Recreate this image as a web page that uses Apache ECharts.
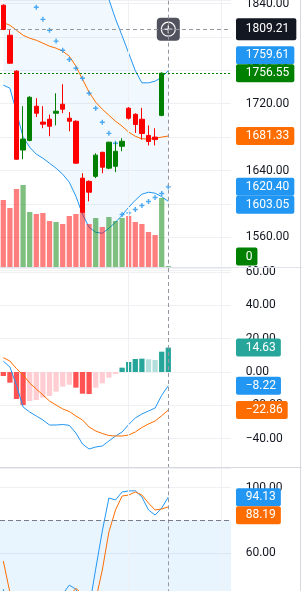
<!DOCTYPE html>
<html>
<head>
<meta charset="utf-8">
<script src="https://cdn.jsdelivr.net/npm/echarts@6/dist/echarts.min.js"></script>
<style>
html, body { margin: 0; padding: 0; background: #fff; width: 302px; height: 591px; overflow: hidden; position: relative; }
/* the canvas starts a bit above the window and runs past its bottom, like a scrolled pane */
#chart { position: absolute; left: 0; top: -20px; width: 302px; height: 731px; }
</style>
</head>
<body>
<div id="chart"></div>
<script>
// 26 bars with data, the rest of the slots are empty space on the right
const slots = ['1','2','3','4','5','6','7','8','9','10','11','12','13','14','15','16','17','18',
  '19','20','21','22','23','24','25','26','27','28','29','30','31','32','33','34','35'];

const open  = [1838, 1802, 1759, 1664.5, 1676, 1717, 1698, 1701.4, 1708.6, 1719.4, 1702.6, 1699, 1630.8, 1627, 1633, 1661.8, 1642.8, 1645, 1669, 1714.6, 1707.3, 1701.4, 1682, 1680, 1706, null];
const close = [1809, 1768.5, 1653.5, 1677.6, 1727.7, 1708.6, 1695.5, 1693, 1711, 1713.4, 1699, 1648.8, 1590, 1614, 1658.4, 1644, 1673.9, 1663, 1675, 1702.6, 1695.1, 1684.4, 1674.7, 1677, 1756.55, null];
const low   = [1808, 1768, 1653, 1653.5, 1675, 1704, 1690.6, 1681, 1694, 1708.6, 1687, 1648, 1589, 1603, 1630.8, 1636.7, 1641.6, 1638, 1663, 1701, 1685, 1677, 1670, 1670, 1705, null];
const high  = [1839, 1808, 1760, 1717, 1729, 1726.6, 1717, 1707, 1732.5, 1743.3, 1710, 1700, 1636.7, 1628.2, 1660.6, 1662.5, 1674.5, 1674, 1678.7, 1716, 1708.5, 1715, 1694, 1690.6, 1757.5, null];
const volume = [67, 59, 78, 82, 55, 53, 54, 46, 45, 43, 51, 53, 55, 43, 49, 40, 50, 46, 49, 51, 45, 43, 35, 32, 69, 0];

const bbUpper  = [1880, 1885, 1890, 1892, 1893, 1893, 1892, 1890, 1888, 1885, 1882, 1878, 1872, 1866, 1860, 1852, 1845, 1821.6, 1801.4, 1780.5, 1759.6, 1745, 1745, 1747, 1751.6, 1759.61];
const bbMiddle = [1817, 1814, 1808, 1802, 1798.4, 1796, 1792.5, 1788.9, 1786.5, 1782.9, 1776.9, 1764.9, 1749.3, 1733.8, 1721.8, 1713.4, 1706.2, 1699, 1693.1, 1686, 1681, 1678, 1677.5, 1678.5, 1680, 1681.33];
const bbLower  = [1742.2, 1738.6, 1709.9, 1679.9, 1667.9, 1659.5, 1654.7, 1648.7, 1642.7, 1635.5, 1625.9, 1609.2, 1587.6, 1572, 1566, 1564.8, 1570.8, 1578, 1586.4, 1596, 1604.4, 1611.6, 1614, 1612.8, 1608.6, 1603.05];
const sar = [null, null, null, null, null, 1835.6, 1821, 1808, 1795, 1784, 1773, 1762.5, 1750.5, 1732.5, 1714.6, 1697.8, 1684.5, 1672.6, 1587.3, 1589.2, 1593.3, 1598.1, 1602.9, 1607.7, 1612.5, 1620.4];

const macdHist   = [-2.4, -6.4, -16.2, -19.8, -17.4, -16.8, -15.4, -14.4, -11.8, -8.8, -7.6, -9.4, -13.0, -13.2, -9.4, -6.8, -3.4, -1.2, 2.6, 6.0, 7.8, 8.0, 7.6, 7.2, 12.2, 14.63];
const macdLine   = [6.5, 3.0, -8, -21, -24, -26.4, -28.8, -31.8, -31.8, -31.5, -32, -36.6, -43.2, -46.2, -45, -44.4, -41.4, -38.4, -36, -31.5, -27.6, -25.2, -23.4, -21.6, -14, -8.22];
const macdSignal = [8.6, 6.6, 2.0, -1.8, -6.6, -10.2, -13.8, -17.4, -19.8, -22.2, -23.7, -26.4, -28.8, -33, -35.4, -36.9, -38.1, -38.4, -38.4, -37.8, -36, -33.3, -31.2, -29.4, -26.2, -22.86];

const stochK = [38, 18, 8, 12, 20, 14, 10, 16, 22, 35, 40.5, 38, 28, 26.5, 50.3, 73.5, 93.6, 92.4, 97.3, 97.9, 98, 94.2, 86.3, 83.2, 87.5, 94.13];
const stochD = [55.2, 36, 20, 12, 13, 15, 15, 13, 15, 22, 34, 38.5, 35, 30, 31.4, 49.7, 72.9, 86.3, 94.8, 95.4, 97.3, 95.4, 90.5, 86.3, 86.9, 88.19];

const crossPrice = 1809.21;
const crossSlot = slots[25];

const TOP = 20; // canvas is shifted up by this much
const upColor = '#008000', downColor = '#ff0000';
const blue = '#2196f3', orange = '#ff6d00';
const gridColor = '#eef0f4';
const font = 'Roboto';

const candleData = open.map((o, i) => o == null ? '-' : [o, close[i], low[i], high[i]]);
const volData = volume.map((v, i) => ({
  value: v,
  itemStyle: { color: (close[i] == null || close[i] >= open[i]) ? 'rgba(0,128,0,0.5)' : 'rgba(255,0,0,0.5)' }
}));
const bandDiff = bbUpper.map((u, i) => u - bbLower[i]);
const histData = macdHist.map((v, i) => {
  const p = i ? macdHist[i - 1] : 0;
  let c;
  if (v >= 0) c = v >= p ? '#26a69a' : '#b2dfdb';
  else c = v <= p ? '#ff5252' : '#ffcdd2';
  return { value: v, itemStyle: { color: c } };
});

function fmt(step, lowest) {
  return function (v) {
    if (v <= lowest) return '';
    const k = v / step;
    if (Math.abs(k - Math.round(k)) > 1e-6) return '';
    return v.toFixed(2).replace('-', '\u2212');
  };
}
function axisLabel(step, lowest) {
  return { color: '#131722', fontFamily: font, fontSize: 12, margin: 14.7, formatter: fmt(step, lowest) };
}
const vGrid = [
  { xAxis: slots[19], lineStyle: { color: gridColor, type: 'solid', width: 1 } },
  { xAxis: slots[33], lineStyle: { color: gridColor, type: 'solid', width: 1 } }
];
const vCross = { xAxis: crossSlot, lineStyle: { color: '#9598a1', type: [4, 3], width: 1 } };
function marks(list) {
  return { silent: true, symbol: 'none', animation: false, label: { show: false }, data: list };
}

const chart = echarts.init(document.getElementById('chart'));
const option = {
  animation: false,
  grid: [
    { left: 0, top: TOP, width: 231, height: 270.7 },
    { left: 0, top: TOP, width: 231, height: 267 },
    { left: 0, top: TOP + 268, width: 231, height: 200 },
    { left: 0, top: TOP + 468, width: 231, height: 216.3 }
  ],
  xAxis: [0, 1, 2, 3].map(i => ({ type: 'category', gridIndex: i, data: slots, show: false, boundaryGap: true })),
  yAxis: [
    { gridIndex: 0, position: 'right', min: 1520, max: 1844.2, interval: 40,
      axisLine: { show: false }, axisTick: { show: false },
      splitLine: { lineStyle: { color: gridColor } }, axisLabel: axisLabel(40, 1520) },
    { gridIndex: 1, min: 0, max: 267, show: false },
    { gridIndex: 2, position: 'right', min: -57.6, max: 62.4, splitNumber: 6,
      axisLine: { show: false }, axisTick: { show: false },
      splitLine: { lineStyle: { color: gridColor } }, axisLabel: axisLabel(20, -57.6) },
    { gridIndex: 3, position: 'right', min: -20, max: 111.9, interval: 40,
      axisLine: { show: false }, axisTick: { show: false },
      splitLine: { lineStyle: { color: gridColor } }, axisLabel: axisLabel(20, -20) }
  ],
  series: [
    { name: 'bbBase', type: 'line', data: bbLower, stack: 'bb', symbol: 'none', silent: true, z: 1,
      lineStyle: { opacity: 0 }, markLine: marks(vGrid) },
    { name: 'bbFill', type: 'line', data: bandDiff, stack: 'bb', symbol: 'none', silent: true, z: 1,
      lineStyle: { opacity: 0 }, areaStyle: { color: 'rgba(33,150,243,0.06)', opacity: 1 } },
    { name: 'volume', type: 'bar', xAxisIndex: 1, yAxisIndex: 1, data: volData, barWidth: '80%',
      barMinHeight: 1, silent: true, z: 3 },
    { name: 'upper', type: 'line', data: bbUpper, symbol: 'none', silent: true, z: 2,
      lineStyle: { color: blue, width: 1 } },
    { name: 'middle', type: 'line', data: bbMiddle, symbol: 'none', silent: true, z: 4,
      lineStyle: { color: orange, width: 1 } },
    { name: 'lower', type: 'line', data: bbLower, symbol: 'none', silent: true, z: 2,
      lineStyle: { color: blue, width: 1 } },
    { name: 'sar', type: 'scatter', data: sar, symbol: 'path://M1.8,0H3.2V1.8H5V3.2H3.2V5H1.8V3.2H0V1.8H1.8Z', symbolSize: 5,
      itemStyle: { color: blue }, silent: true, z: 4 },
    { name: 'price', type: 'candlestick', data: candleData, barWidth: 5, silent: true, z: 5,
      itemStyle: { color: upColor, color0: downColor, borderColor: upColor, borderColor0: downColor, borderWidth: 1 },
      markLine: marks([
        vCross,
        { yAxis: crossPrice, lineStyle: { color: '#9598a1', type: [4, 3], width: 1 } },
        { yAxis: close[24], lineStyle: { color: upColor, type: [2, 2], width: 1 } }
      ]) },
    { name: 'hist', type: 'bar', xAxisIndex: 2, yAxisIndex: 2, data: histData, barWidth: '80%', silent: true, z: 2,
      markLine: marks(vGrid.concat([vCross])) },
    { name: 'macd', type: 'line', xAxisIndex: 2, yAxisIndex: 2, data: macdLine, symbol: 'none', silent: true, z: 3,
      lineStyle: { color: blue, width: 1 } },
    { name: 'signal', type: 'line', xAxisIndex: 2, yAxisIndex: 2, data: macdSignal, symbol: 'none', silent: true, z: 3,
      lineStyle: { color: orange, width: 1 } },
    { name: 'k', type: 'line', xAxisIndex: 3, yAxisIndex: 3, data: stochK, symbol: 'none', silent: true, z: 3,
      lineStyle: { color: blue, width: 1 },
      markArea: { silent: true, itemStyle: { color: 'rgba(33,150,243,0.1)' }, data: [[{ yAxis: 20 }, { yAxis: 80 }]] },
      markLine: marks(vGrid.concat([
        vCross,
        { yAxis: 80, lineStyle: { color: '#787b86', type: [5, 3], width: 1 } },
        { yAxis: 20, lineStyle: { color: '#787b86', type: [5, 3], width: 1 } }
      ])) },
    { name: 'd', type: 'line', xAxisIndex: 3, yAxisIndex: 3, data: stochD, symbol: 'none', silent: true, z: 3,
      lineStyle: { color: orange, width: 1 } }
  ]
};
chart.setOption(option);

// last-value tags on the right scale, placed through the axes
function py(axis, v) { return chart.convertToPixel({ yAxisIndex: axis }, v); }
function spread(list) {
  list.sort((a, b) => a.y - b.y);
  for (let i = 1; i < list.length; i++) {
    const a = list[i - 1], b = list[i];
    const gap = (a.h + b.h) / 2;
    if (b.y - a.y < gap) {
      if (b.fixed) a.y = b.y - gap; else b.y = a.y + gap;
    }
  }
  return list;
}
const pricePane = spread([
  { text: crossPrice.toFixed(2), color: '#131722', y: py(0, crossPrice), h: 22, fixed: true },
  { text: '1759.61', color: blue, y: py(0, bbUpper[25]), h: 18 },
  { text: '1756.55', color: upColor, y: py(0, close[24]), h: 18, fixed: true },
  { text: '1681.33', color: orange, y: py(0, bbMiddle[25]), h: 18 },
  { text: '1620.40', color: blue, y: py(0, sar[25]), h: 18 },
  { text: '1603.05', color: blue, y: py(0, bbLower[25]), h: 18 }
]);
const volTag = { text: String(volume[25]), color: upColor, y: Math.min(py(1, volume[25]), TOP + 265.5 - 9), h: 18 };
const macdPane = spread([
  { text: '14.63', color: '#26a69a', y: py(2, macdHist[25]), h: 18 },
  { text: '\u22128.22', color: blue, y: py(2, macdLine[25]), h: 18 },
  { text: '\u221222.86', color: orange, y: py(2, macdSignal[25]), h: 18 }
]);
const stochPane = spread([
  { text: '94.13', color: blue, y: py(3, stochK[25]), h: 18 },
  { text: '88.19', color: orange, y: py(3, stochD[25]), h: 18 }
]);
const tags = pricePane.concat([volTag], macdPane, stochPane).map(t => ({
  type: 'text', x: 236, y: t.y, z: 100,
  style: {
    text: t.text, fill: '#fff', fontFamily: font, fontSize: 12, lineHeight: 12,
    verticalAlign: 'middle', align: 'left', backgroundColor: t.color,
    padding: t.h > 18 ? [5, 7, 5, 9.7] : [3, 5, 3, 9.7], borderRadius: 2
  }
}));

const cx = chart.convertToPixel({ xAxisIndex: 0 }, crossSlot);
const cy = py(0, crossPrice);
const plus = {
  type: 'group', x: cx, y: cy, z: 101,
  children: [
    { type: 'rect', shape: { x: -11.5, y: -11.5, width: 23, height: 23, r: 4 }, style: { fill: '#50535e' } },
    { type: 'circle', shape: { cx: 0, cy: 0, r: 7 }, style: { fill: 'none', stroke: '#fff', lineWidth: 1.2 } },
    { type: 'line', shape: { x1: -4, y1: 0, x2: 4, y2: 0 }, style: { stroke: '#fff', lineWidth: 1.2 } },
    { type: 'line', shape: { x1: 0, y1: -4, x2: 0, y2: 4 }, style: { stroke: '#fff', lineWidth: 1.2 } }
  ]
};
const frame = [
  { type: 'line', z: 50, shape: { x1: 0, y1: TOP + 267.5, x2: 302, y2: TOP + 267.5 }, style: { stroke: '#e0e3eb', lineWidth: 1 } },
  { type: 'line', z: 50, shape: { x1: 0, y1: TOP + 467.5, x2: 302, y2: TOP + 467.5 }, style: { stroke: '#d6d8de', lineWidth: 1 } },
  { type: 'line', z: 50, shape: { x1: 300.5, y1: 0, x2: 300.5, y2: 731 }, style: { stroke: '#d6d8de', lineWidth: 1 } }
];
chart.setOption({ graphic: frame.concat(tags, [plus]) });
</script>
</body>
</html>
